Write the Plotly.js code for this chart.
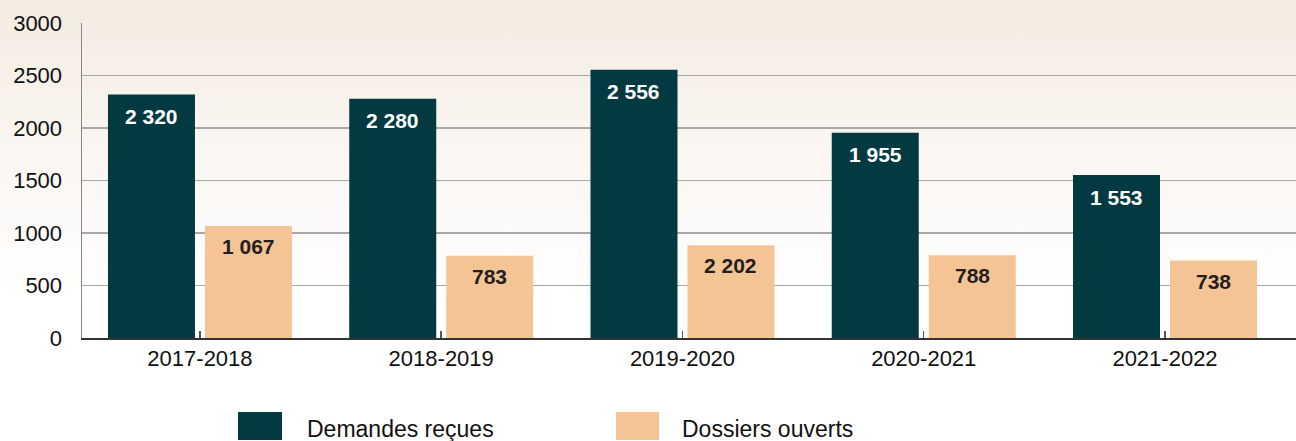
<!DOCTYPE html>
<html>
<head>
<meta charset="utf-8">
<script src="https://cdn.plot.ly/plotly-3.0.1.min.js"></script>
<style>
html,body{margin:0;padding:0;}
body{width:1296px;height:441px;overflow:hidden;background:linear-gradient(to bottom,#f4ebe1 0px,#faf7f3 170px,#ffffff 300px,#ffffff 441px);}
#chart{width:1296px;height:441px;}
</style>
</head>
<body>
<div id="chart"></div>
<script>
const categories = ["2017-2018","2018-2019","2019-2020","2020-2021","2021-2022"];
const seriesNames = ["Demandes reçues","Dossiers ouverts"];
const demandes = [2320, 2280, 2556, 1955, 1553];
const dossiers = [1067, 783, 885, 788, 738];
const demandesLabels = ["2 320","2 280","2 556","1 955","1 553"];
const dossiersLabels = ["1 067","783","2 202","788","738"];
const yTicks = [0, 500, 1000, 1500, 2000, 2500, 3000];

const darkColor = "#033a41";
const peachColor = "#f4c494";
const font = "Liberation Sans, Arial, sans-serif";

const traces = [
  {type:"bar", name:seriesNames[0], x:categories, y:demandes, marker:{color:darkColor}, hoverinfo:"none"},
  {type:"bar", name:seriesNames[1], x:categories, y:dossiers, marker:{color:peachColor}, hoverinfo:"none"}
];

const annotations = [];
categories.forEach((c,i)=>{
  annotations.push({x:c, y:demandes[i], xref:"x", yref:"y", text:demandesLabels[i], showarrow:false,
    xshift:-48.5, yshift:-22, yanchor:"middle", font:{family:font, size:21, color:"#ffffff", weight:"bold"}});
  annotations.push({x:c, y:dossiers[i], xref:"x", yref:"y", text:dossiersLabels[i], showarrow:false,
    xshift:48.5, yshift:-20.5, yanchor:"middle", font:{family:font, size:21, color:"#231f20", weight:"bold"}});
});

// custom legend
const legendItems = [
  {name:seriesNames[0], color:darkColor, x0:0.1285, x1:0.1648, tx:0.1837},
  {name:seriesNames[1], color:peachColor, x0:0.4399, x1:0.4753, tx:0.4926}
];
const shapes = [];
legendItems.forEach(it=>{
  shapes.push({type:"rect", xref:"paper", yref:"paper", x0:it.x0, x1:it.x1, y0:-0.324, y1:-0.235,
    fillcolor:it.color, line:{width:0}});
  annotations.push({xref:"paper", yref:"paper", x:it.tx, y:-0.29, xanchor:"left", yanchor:"middle",
    text:it.name, showarrow:false, font:{family:font, size:23, color:"#111111"}});
});

const layout = {
  width:1296, height:441,
  margin:{l:82, r:0, t:23, b:103},
  paper_bgcolor:"rgba(0,0,0,0)",
  plot_bgcolor:"rgba(0,0,0,0)",
  barmode:"group",
  bargap:0.196,
  bargroupgap:0.103,
  showlegend:false,
  font:{family:font, size:22, color:"#111111"},
  xaxis:{
    type:"category", range:[-0.489, 4.543],
    showline:true, linecolor:"#333333", linewidth:2,
    ticks:"inside", ticklen:7, tickcolor:"#555555", tickwidth:1.5,
    tickfont:{family:font, size:22, color:"#111111"},
    showgrid:false, fixedrange:true
  },
  yaxis:{
    range:[0, 3002], tickvals:yTicks, ticktext:yTicks.map(String),
    showgrid:true, gridcolor:"#a8a8a8", gridwidth:1.5,
    showline:true, linecolor:"#888888", linewidth:1.5,
    zeroline:false, ticks:"", ticklabelstandoff:14,
    tickfont:{family:font, size:22, color:"#111111"},
    fixedrange:true
  },
  annotations:annotations,
  shapes:shapes
};

Plotly.newPlot("chart", traces, layout, {displayModeBar:false, staticPlot:true});
</script>
</body>
</html>
